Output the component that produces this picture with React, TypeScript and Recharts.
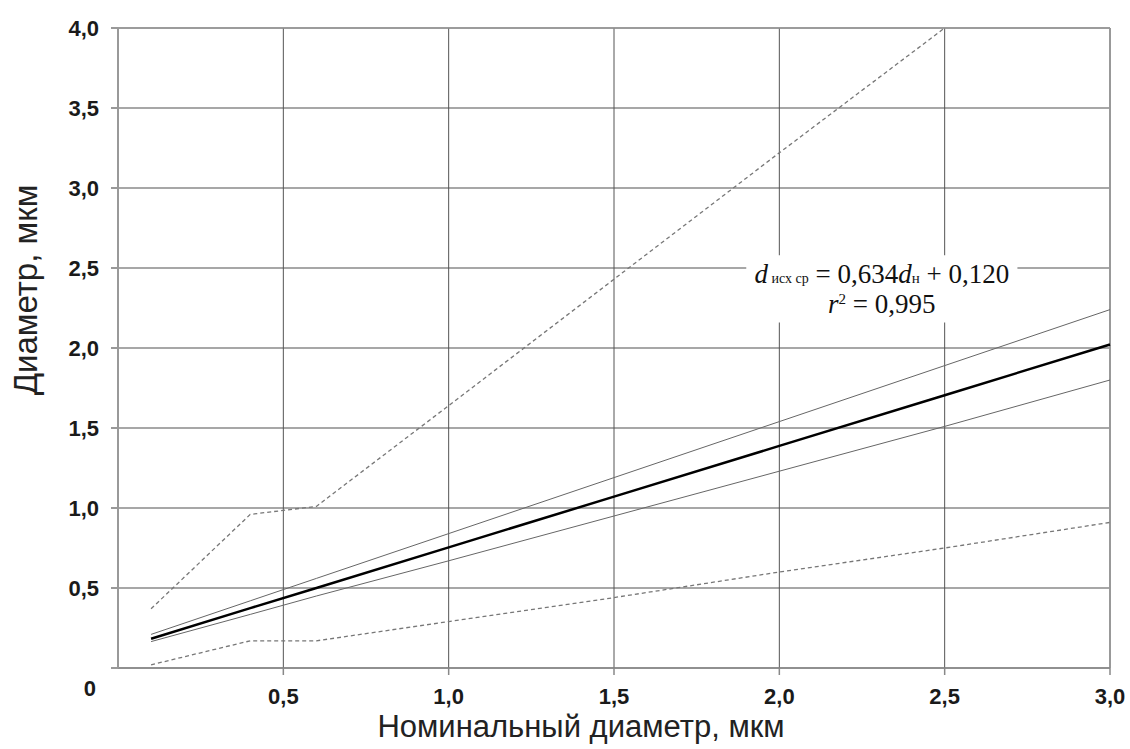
import { LineChart, Line, XAxis, YAxis, CartesianGrid, ReferenceLine, ReferenceArea } from 'recharts';

// номинальный диаметр, мкм
const nominal = [0.1, 0.4, 0.6, 1.0, 1.5, 2.0, 2.5, 3.0];
// средний исходный диаметр (линия регрессии)
const meanLine = [0.183, 0.374, 0.5, 0.754, 1.071, 1.388, 1.705, 2.022];
// доверительные границы
const upperBand = [0.21, 0.42, 0.56, 0.84, 1.19, 1.54, 1.89, 2.24];
const lowerBand = [0.165, 0.335, 0.45, 0.67, 0.95, 1.23, 1.51, 1.8];
// максимальные и минимальные значения
const maxValues = [0.37, 0.96, 1.01, 1.64, 2.43, 3.22, 4.0, null];
const minValues = [0.02, 0.17, 0.17, 0.29, 0.44, 0.6, 0.75, 0.91];

const xTicks = [0.5, 1.0, 1.5, 2.0, 2.5, 3.0];
const yTicks = [0, 0.5, 1.0, 1.5, 2.0, 2.5, 3.0, 3.5, 4.0];

const data = nominal.map((x, i) => ({
  x,
  mean: meanLine[i],
  upper: upperBand[i],
  lower: lowerBand[i],
  max: maxValues[i],
  min: minValues[i],
}));

const sans = '"Liberation Sans", Arial, sans-serif';
const serif = '"Liberation Serif", "Times New Roman", serif';

const fmt = (v: number) => (v === 0 ? '0' : v.toFixed(1).replace('.', ','));

function XTick({ x, y, payload }: any) {
  return (
    <text x={x} y={y} dy={27} textAnchor="middle" fontFamily={sans} fontWeight="bold" fontSize={22} fill="#1a1a1a">
      {fmt(payload.value)}
    </text>
  );
}

function YTick({ x, y, payload }: any) {
  const zero = payload.value === 0;
  return (
    <text x={zero ? x - 13 : x - 10} y={y} dy={zero ? 28 : 8} textAnchor="end" fontFamily={sans} fontWeight="bold" fontSize={22} fill="#1a1a1a">
      {fmt(payload.value)}
    </text>
  );
}

function Equation({ viewBox }: any) {
  const cx = viewBox.x + viewBox.width / 2;
  return (
    <g>
      <text x={cx} y={viewBox.y + 28} textAnchor="middle" fontFamily={serif} fontSize={27} fill="#111">
        <tspan fontStyle="italic">d</tspan>
        <tspan fontSize={14}> исх ср</tspan>
        <tspan> = 0,634</tspan>
        <tspan fontStyle="italic">d</tspan>
        <tspan fontSize={15}>н</tspan>
        <tspan> + 0,120</tspan>
      </text>
      <text x={cx} y={viewBox.y + 58} textAnchor="middle" fontFamily={serif} fontSize={27} fill="#111">
        <tspan fontStyle="italic">r</tspan>
        <tspan fontSize={15} dy={-9}>2</tspan>
        <tspan dy={9}> = 0,995</tspan>
      </text>
    </g>
  );
}

export default function App() {
  return (
    <div style={{ position: 'absolute', left: 0, top: 0, background: '#fff' }}>
      <LineChart width={1130} height={749} data={data} margin={{ top: 28, right: 20, left: 0, bottom: 0 }}>
        <CartesianGrid vertical={false} stroke="#8a8a8a" strokeWidth={1.5} />
        <CartesianGrid horizontal={false} stroke="#555" strokeWidth={1} />
        <XAxis
          dataKey="x"
          type="number"
          domain={[0, 3]}
          ticks={xTicks}
          height={81}
          tickSize={7}
          stroke="#888"
          strokeWidth={1.5}
          tick={<XTick />}
          label={{ value: 'Номинальный диаметр, мкм', position: 'insideBottom', offset: 12, fontFamily: sans, fontSize: 31, fill: '#222', dx: -33 }}
        />
        <YAxis
          type="number"
          domain={[0, 4]}
          ticks={yTicks}
          width={118}
          tickSize={7}
          stroke="#999"
          strokeWidth={2}
          allowDataOverflow
          tick={<YTick />}
          label={{ value: 'Диаметр, мкм', angle: -90, position: 'insideLeft', offset: 25, dy: -58, fontFamily: sans, fontSize: 33, fill: '#222', style: { textAnchor: 'middle' } }}
        />
        <ReferenceLine x={3} stroke="#999" strokeWidth={2} />
        <ReferenceLine y={4} stroke="#999" strokeWidth={1.5} />
        <ReferenceArea x1={1.9} x2={2.72} y1={2.16} y2={2.58} fill="#fff" fillOpacity={1} stroke="none" label={<Equation />} />
        <Line type="linear" dataKey="max" stroke="#777" strokeWidth={1.3} strokeDasharray="4 3" dot={false} isAnimationActive={false} />
        <Line type="linear" dataKey="min" stroke="#777" strokeWidth={1.3} strokeDasharray="4 3" dot={false} isAnimationActive={false} />
        <Line type="linear" dataKey="upper" stroke="#666" strokeWidth={1} dot={false} isAnimationActive={false} />
        <Line type="linear" dataKey="lower" stroke="#666" strokeWidth={1} dot={false} isAnimationActive={false} />
        <Line type="linear" dataKey="mean" stroke="#000" strokeWidth={2.5} dot={false} isAnimationActive={false} />
      </LineChart>
    </div>
  );
}
